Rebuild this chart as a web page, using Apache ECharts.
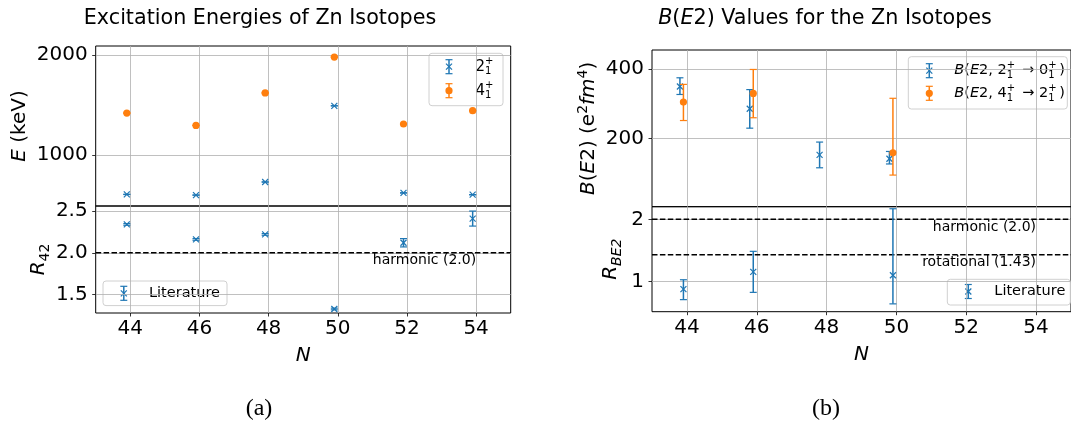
<!DOCTYPE html>
<html>
<head>
<meta charset="utf-8">
<script src="https://cdn.jsdelivr.net/npm/echarts@6/dist/echarts.min.js"></script>
<style>
html,body{margin:0;padding:0;background:#fff}
#chart{width:1071px;height:423px}
</style>
</head>
<body>
<div id="chart"></div>
<script>
// neutron numbers
const N = [44, 46, 48, 50, 52, 54];
const N_TICKS = [44, 46, 48, 50, 52, 54];

// (a) excitation energies (keV) and R42
const E21 = [606, 599, 730, 1492, 621, 603];
const E21_ERR = [1, 1, 1, 1, 1, 1];
const E41 = [1419, 1296, 1621, 1979, 1310, 1443];
const E41_ERR = [1, 1, 1, 1, 1, 1];
const R42 = [2.34, 2.16, 2.22, 1.325, 2.12, 2.41];
const R42_ERR = [0.01, 0.01, 0.01, 0.01, 0.05, 0.09];
const E_TICKS = [1000, 2000];
const R42_TICKS = [1.5, 2.0, 2.5];
const R42_REFS = [2.0];
const R42_REF_LABELS = ['harmonic (2.0)'];

// (b) B(E2) values (e^2 fm^4) and ratio, asymmetric errors
const N_BE2_20 = [44, 46, 48, 50];
const BE2_20 = [350, 286, 153, 142];
const BE2_20_LO = [23, 56, 37, 15];
const BE2_20_HI = [25, 55, 37, 21];
const N_BE2_42 = [44, 46, 50];
const BE2_42 = [305, 330, 159];
const BE2_42_LO = [53, 70, 64];
const BE2_42_HI = [51, 69, 157];
const RBE2 = [0.878, 1.155, 1.10];
const RBE2_LO = [0.17, 0.33, 0.46];
const RBE2_HI = [0.15, 0.33, 1.07];
const BE2_TICKS = [200, 400];
const RBE2_TICKS = [1, 2];
const RBE2_REFS = [2.0, 1.43];
const RBE2_REF_LABELS = ['harmonic (2.0)', 'rotational (1.43)'];
const LABEL_N = 54;

const BLUE = '#1f77b4';
const ORANGE = '#ff7f0e';
const FONT = 'DejaVu Sans';
const GRID_C = '#b0b0b0';

const chart = echarts.init(document.getElementById('chart'));

// error bar (lo/hi) + marker around a point, pixel positions via api.coord
function barShapes(cx, yHi, yLo, cy, marker, color) {
  const kids = [
    {type: 'line', shape: {x1: cx, y1: yHi, x2: cx, y2: yLo}, style: {stroke: color, lineWidth: 1.5}},
    {type: 'line', shape: {x1: cx - 3.5, y1: yHi, x2: cx + 3.5, y2: yHi}, style: {stroke: color, lineWidth: 1.2}},
    {type: 'line', shape: {x1: cx - 3.5, y1: yLo, x2: cx + 3.5, y2: yLo}, style: {stroke: color, lineWidth: 1.2}}
  ];
  if (marker === 'x') {
    kids.push({type: 'line', shape: {x1: cx - 3, y1: cy - 3, x2: cx + 3, y2: cy + 3}, style: {stroke: color, lineWidth: 1.2}});
    kids.push({type: 'line', shape: {x1: cx - 3, y1: cy + 3, x2: cx + 3, y2: cy - 3}, style: {stroke: color, lineWidth: 1.2}});
  } else {
    kids.push({type: 'circle', shape: {cx: cx, cy: cy, r: 3.6}, style: {fill: color}});
  }
  return kids;
}

function errorBars(marker, color) {
  return function (params, api) {
    const x = api.value(0), y = api.value(1);
    const c = api.coord([x, y]);
    const hi = api.coord([x, y + api.value(3)]);
    const lo = api.coord([x, y - api.value(2)]);
    return {type: 'group', children: barShapes(c[0], hi[1], lo[1], c[1], marker, color)};
  };
}

// dashed reference lines with right aligned label
function refLines(labels) {
  return function (params, api) {
    const cs = params.coordSys;
    const p = api.coord([api.value(0), api.value(1)]);
    return {type: 'group', children: [
      {type: 'line', shape: {x1: cs.x, y1: p[1], x2: cs.x + cs.width, y2: p[1]},
        style: {stroke: '#000', lineWidth: 1.5, lineDash: [5.5, 2.4]}},
      {type: 'text', x: p[0], y: p[1] + 1,
        style: {text: labels[params.dataIndex], fill: '#000', fontSize: 14, fontFamily: FONT, align: 'right', verticalAlign: 'top'}}
    ]};
  };
}

const RICH = {
  i: {fontStyle: 'italic', fontSize: 20, fontFamily: FONT, color: '#000', lineHeight: 26},
  sub: {fontSize: 14, fontFamily: FONT, color: '#000', lineHeight: 14, verticalAlign: 'bottom'},
  subi: {fontSize: 14, fontStyle: 'italic', fontFamily: FONT, color: '#000', lineHeight: 14, verticalAlign: 'bottom'},
  sup: {fontSize: 14, fontFamily: FONT, color: '#000', lineHeight: 14, verticalAlign: 'top'}
};
const NAME_STYLE = {fontSize: 20, fontFamily: FONT, color: '#000', lineHeight: 26, rich: RICH};

function xAxis(grid, bottom) {
  return {
    type: 'value', gridIndex: grid, min: 43, max: 55,
    axisLine: {show: false},
    axisTick: {show: bottom, length: 3.5, customValues: N_TICKS, lineStyle: {color: '#000', width: 0.8}},
    axisLabel: {show: bottom, customValues: N_TICKS, margin: 6, fontSize: 20, fontFamily: FONT, color: '#000'},
    splitLine: {show: true, lineStyle: {color: GRID_C, width: 0.8}},
    name: bottom ? '{i|N}' : '', nameLocation: 'middle', nameGap: 30, nameTextStyle: NAME_STYLE
  };
}

function yAxis(grid, min, max, ticks, name, gap, digits) {
  return {
    type: 'value', gridIndex: grid, min: min, max: max,
    axisLine: {show: false},
    axisTick: {show: true, length: 3.5, customValues: ticks, lineStyle: {color: '#000', width: 0.8}},
    axisLabel: {customValues: ticks, margin: 8, fontSize: 20, fontFamily: FONT, color: '#000',
      formatter: v => digits == null ? String(v) : Number(v).toFixed(digits)},
    splitLine: {show: true, lineStyle: {color: GRID_C, width: 0.8}},
    name: name, nameLocation: 'middle', nameGap: gap, nameRotate: 90, nameTextStyle: NAME_STYLE
  };
}

// legends drawn as graphic boxes (icon = error bar with marker)
function legRich(size) {
  return {
    i: {fontStyle: 'italic', fontSize: size, fontFamily: FONT, color: '#000', lineHeight: 20},
    n: {fontSize: size, fontFamily: FONT, color: '#000', lineHeight: 20},
    sp: {fontSize: 10, fontFamily: FONT, color: '#000', lineHeight: 10, verticalAlign: 'top', width: 0.01},
    sb: {fontSize: 10, fontFamily: FONT, color: '#000', lineHeight: 10, verticalAlign: 'bottom'}
  };
}
function legendBox(x, y, w, h, iconX, textX, size, rows) {
  const kids = [{type: 'rect', shape: {x: x, y: y, width: w, height: h, r: 3},
    style: {fill: 'rgba(255,255,255,0.8)', stroke: '#d0d0d0', lineWidth: 1}}];
  rows.forEach(r => {
    barShapes(iconX, r.cy - 7, r.cy + 7, r.cy, r.marker, r.color).forEach(k => kids.push(k));
    kids.push({type: 'text', x: textX, y: r.cy, style: {text: r.text, rich: legRich(size),
      fontSize: size, fontFamily: FONT, fill: '#000', align: 'left', verticalAlign: 'middle'}});
  });
  return {type: 'group', z: 100, children: kids};
}

const option = {
  backgroundColor: '#fff',
  animation: false,
  grid: [
    {left: 95.7, top: 46, width: 415, height: 160, show: true, borderColor: '#000', borderWidth: 1},
    {left: 95.7, top: 206, width: 415, height: 107, show: true, borderColor: '#000', borderWidth: 1},
    {left: 652, top: 50, width: 426, height: 156.7, show: true, borderColor: '#000', borderWidth: 1},
    {left: 652, top: 206.7, width: 426, height: 105, show: true, borderColor: '#000', borderWidth: 1}
  ],
  xAxis: [xAxis(0, false), xAxis(1, true), xAxis(2, false), xAxis(3, true)],
  yAxis: [
    yAxis(0, 490, 2090, E_TICKS, '{i|E} (keV)', 59, null),
    yAxis(1, 1.277, 2.561, R42_TICKS, '{i|R}{sub|42}', 40, 1),
    yAxis(2, 4, 455, BE2_TICKS, '{i|B}({i|E}2) (e{sup|2}{i|fm}{sup|4})', 47, null),
    yAxis(3, 0.514, 2.203, RBE2_TICKS, '{i|R}{subi|BE2}', 28, null)
  ],
  graphic: [
    {type: 'text', x: 260, y: 19, style: {text: 'Excitation Energies of Zn Isotopes', fontSize: 20.7, fontFamily: FONT, fill: '#000', align: 'center', verticalAlign: 'middle'}},
    {type: 'text', x: 825, y: 19, style: {text: '{i|B}({i|E}2) Values for the Zn Isotopes', fontSize: 20.7, fontFamily: FONT, fill: '#000', align: 'center', verticalAlign: 'middle',
      rich: {i: {fontStyle: 'italic', fontSize: 20.7, fontFamily: FONT, color: '#000'}}}},
    {type: 'text', x: 259, y: 409, style: {text: '(a)', fontSize: 24, fontFamily: 'Liberation Serif', fill: '#000', align: 'center', verticalAlign: 'middle'}},
    {type: 'text', x: 826, y: 409, style: {text: '(b)', fontSize: 24, fontFamily: 'Liberation Serif', fill: '#000', align: 'center', verticalAlign: 'middle'}},
    legendBox(429, 53.3, 74, 52.4, 449, 475.5, 15, [
      {cy: 66.7, marker: 'x', color: BLUE, text: '{n|2}{sp|+}{sb|1}'},
      {cy: 90.7, marker: 'o', color: ORANGE, text: '{n|4}{sp|+}{sb|1}'}
    ]),
    legendBox(103, 281, 124, 24.6, 123.8, 149, 14.5, [
      {cy: 293.3, marker: 'x', color: BLUE, text: '{n|Literature}'}
    ]),
    legendBox(908.3, 56.7, 159, 52.3, 929.3, 954.3, 14.5, [
      {cy: 70.7, marker: 'x', color: BLUE, text: '{i|B}{n|(}{i|E}{n|2, 2}{sp|+}{sb|1}{n|  \u2192 0}{sp|+}{sb|1}{n| )}'},
      {cy: 93.3, marker: 'o', color: ORANGE, text: '{i|B}{n|(}{i|E}{n|2, 4}{sp|+}{sb|1}{n|  \u2192 2}{sp|+}{sb|1}{n| )}'}
    ]),
    legendBox(947.3, 279.3, 123, 25.7, 968.3, 994.3, 14.5, [
      {cy: 291.5, marker: 'x', color: BLUE, text: '{n|Literature}'}
    ])
  ],
  series: [
    {type: 'custom', name: 'E21', xAxisIndex: 0, yAxisIndex: 0, encode: {x: 0, y: 1},
      renderItem: errorBars('x', BLUE), data: N.map((n, i) => [n - 0.1, E21[i], E21_ERR[i], E21_ERR[i]])},
    {type: 'custom', name: 'E41', xAxisIndex: 0, yAxisIndex: 0, encode: {x: 0, y: 1},
      renderItem: errorBars('o', ORANGE), data: N.map((n, i) => [n - 0.1, E41[i], E41_ERR[i], E41_ERR[i]])},
    {type: 'custom', xAxisIndex: 1, yAxisIndex: 1, silent: true, encode: {x: 0, y: 1},
      renderItem: refLines(R42_REF_LABELS), data: R42_REFS.map(v => [LABEL_N, v])},
    {type: 'custom', name: 'R42', xAxisIndex: 1, yAxisIndex: 1, encode: {x: 0, y: 1},
      renderItem: errorBars('x', BLUE), data: N.map((n, i) => [n - 0.1, R42[i], R42_ERR[i], R42_ERR[i]])},
    {type: 'custom', name: 'B20', xAxisIndex: 2, yAxisIndex: 2, encode: {x: 0, y: 1},
      renderItem: errorBars('x', BLUE), data: N_BE2_20.map((n, i) => [n - 0.2, BE2_20[i], BE2_20_LO[i], BE2_20_HI[i]])},
    {type: 'custom', name: 'B42', xAxisIndex: 2, yAxisIndex: 2, encode: {x: 0, y: 1},
      renderItem: errorBars('o', ORANGE), data: N_BE2_42.map((n, i) => [n - 0.1, BE2_42[i], BE2_42_LO[i], BE2_42_HI[i]])},
    {type: 'custom', xAxisIndex: 3, yAxisIndex: 3, silent: true, encode: {x: 0, y: 1},
      renderItem: refLines(RBE2_REF_LABELS), data: RBE2_REFS.map(v => [LABEL_N, v])},
    {type: 'custom', name: 'RBE2', xAxisIndex: 3, yAxisIndex: 3, encode: {x: 0, y: 1},
      renderItem: errorBars('x', BLUE), data: N_BE2_42.map((n, i) => [n - 0.1, RBE2[i], RBE2_LO[i], RBE2_HI[i]])}
  ]
};

chart.setOption(option);
</script>
</body>
</html>
